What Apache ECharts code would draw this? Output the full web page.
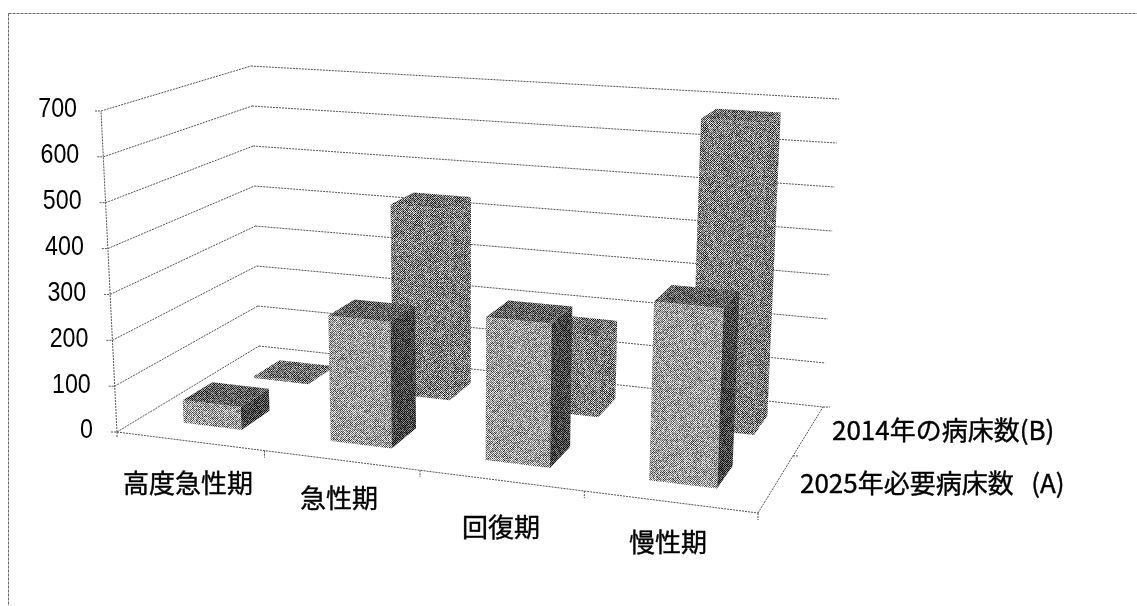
<!DOCTYPE html>
<html><head><meta charset="utf-8">
<script src="https://cdn.jsdelivr.net/npm/echarts@6/dist/echarts.min.js"></script>
<style>html,body{margin:0;padding:0;background:#fff}#c{width:1137px;height:606px}</style>
</head><body><div id="c"></div>
<script>
const categories = ['高度急性期', '急性期', '回復期', '慢性期'];
const seriesNames = ['2025年必要病床数   (A)', '2014年の病床数(B)'];
const valuesA = [50, 270, 300, 365];
const valuesB = [4, 438, 180, 680];
const tickValues = [0, 100, 200, 300, 400, 500, 600, 700];

const FONT = '"Noto Sans CJK JP","Liberation Sans",sans-serif';
const catLabelPos=[[188,483],[339,498],[501,527],[668,542]];
const serLabelPos=[[800,483],[832,430]];
const floorQuad = [[117,432],[758,513],[823,407],[259,346]];
const vanish=[462,7355], riseCoef=[-2.6e-7,7.43e-5,0.0143];
function homography(q){
  const [p0,p1,p2,p3]=q;
  const dx1=p1[0]-p2[0],dy1=p1[1]-p2[1],dx2=p3[0]-p2[0],dy2=p3[1]-p2[1];
  const dx3=p0[0]-p1[0]+p2[0]-p3[0],dy3=p0[1]-p1[1]+p2[1]-p3[1];
  const den=dx1*dy2-dx2*dy1;
  const g=(dx3*dy2-dx2*dy3)/den,h=(dx1*dy3-dx3*dy1)/den;
  const a=p1[0]-p0[0]+g*p1[0],b=p3[0]-p0[0]+h*p3[0],d=p1[1]-p0[1]+g*p1[1],e=p3[1]-p0[1]+h*p3[1];
  return (u,w)=>{const n=g*u+h*w+1;return [(a*u+b*w+p0[0])/n,(d*u+e*w+p0[1])/n];};
}
const hF=homography(floorQuad);
function project(u,w,v){
  const f=hF(u,w),t=(riseCoef[0]*f[0]+riseCoef[1]*f[1]+riseCoef[2])*v;
  return [f[0]+(f[0]-vanish[0])*t,f[1]+(f[1]-vanish[1])*t];
}

function tile(gray,amp){
  const n=128,c=document.createElement('canvas');c.width=c.height=n;
  const x=c.getContext('2d'),im=x.createImageData(n,n);
  let s=(2463534242^(gray*7919))|0;
  for(let r=0;r<n;r++)for(let q=0;q<n;q++){
    s^=s<<13;s^=s>>>17;s^=s<<5;
    const noise=((s>>>8)&255)/255-0.5;
    const chk=(r+q)%2?1:-1;
    const val=Math.max(0,Math.min(255,gray+chk*amp*0.55+noise*amp));
    const i=(r*n+q)*4;
    im.data[i]=im.data[i+1]=im.data[i+2]=val;im.data[i+3]=255;
  }
  x.putImageData(im,0,0);
  return {image:c,repeat:'repeat'};
}
const fillsA={front:tile(158,110),side:tile(68,90),top:tile(98,100)};
const fillsB={front:tile(128,120),side:tile(124,120),top:tile(112,110)};

function normV(params,api,val){
  const cs=params.coordSys;
  return (cs.y+cs.height-api.coord([0,val])[1])/cs.height;
}
function barRender(depth,fills){
  const half=0.1,fw=0.4;
  return function(params,api){
    const cs=params.coordSys,i=api.value(0),val=api.value(1);
    const cx=(api.coord([i,0])[0]-cs.x)/cs.width,hw=api.size([1,0])[0]/cs.width*fw/2;
    const v=normV(params,api,val);
    const u0=cx-hw,u1=cx+hw,w0=depth-half,w1=depth+half;
    const poly=(pts,f)=>({type:'polygon',shape:{points:pts},style:{fill:f,stroke:null}});
    return {type:'group',children:[
      poly([project(u0,w0,0),project(u1,w0,0),project(u1,w0,v),project(u0,w0,v)],fills.front),
      poly([project(u1,w0,0),project(u1,w1,0),project(u1,w1,v),project(u1,w0,v)],fills.side),
      poly([project(u0,w0,v),project(u1,w0,v),project(u1,w1,v),project(u0,w1,v)],fills.top)
    ]};
  };
}
const lineStyle={stroke:'#555',lineWidth:1,lineDash:[2,1],fill:null};
function seg(a,b,s){return {type:'line',shape:{x1:a[0],y1:a[1],x2:b[0],y2:b[1]},style:s||lineStyle};}
function wallRender(params,api){
  const val=api.value(0),v=normV(params,api,val);
  const a=project(0,0,v),b=project(0,1,v),c=project(1,1,v);
  const kids=[seg(a,b),seg(b,c),seg([a[0]-6,a[1]],a)];
  kids.push({type:'text',x:a[0]-24,y:a[1]-1,scaleX:0.86,style:{text:String(val),x:0,y:0,align:'right',verticalAlign:'middle',fill:'#000',font:'27px "Liberation Sans",sans-serif'}});
  return {type:'group',children:kids};
}
function frameRender(params,api){
  const o=project(0,0,0);
  const kids=[seg(o,project(0,0,1)),seg(o,project(1,0,0)),seg(project(1,0,0),project(1,1,0))];
  categories.forEach((_,i)=>{const p=project((i+1)/4,0,0);kids.push(seg(p,[p[0],p[1]+7]));});
  kids.push(seg(o,[o[0],o[1]+5]));
  const m=project(1,0.5,0);kids.push(seg(m,[m[0]+6,m[1]]));
  const e=project(1,1,0);kids.push(seg(e,[e[0]+7,e[1]]));
  return {type:'group',children:kids};
}
const textStyle=(text,x,y,align,size)=>({type:'text',style:{text,x,y,align,verticalAlign:'middle',fill:'#000',stroke:'#000',lineWidth:0.4,font:size+'px '+FONT}});
const idx=a=>a.map((v,i)=>[i,v]);
const chart=echarts.init(document.getElementById('c'),null,{renderer:'canvas'});
chart.setOption({
  animation:false,backgroundColor:'#fff',
  grid:{left:117,right:379,top:111,bottom:174},
  xAxis:{type:'category',data:categories,show:false},
  yAxis:{type:'value',min:0,max:700,interval:100,show:false},
  graphic:[
    {type:'line',shape:{x1:8.5,y1:13.5,x2:1137,y2:13.5},style:{stroke:'#666',lineWidth:1,lineDash:[3,1]},silent:true},
    {type:'line',shape:{x1:8.5,y1:13.5,x2:8.5,y2:606},style:{stroke:'#666',lineWidth:1,lineDash:[3,1]},silent:true}
  ],
  series:[
    {type:'custom',z:2,data:tickValues.map(v=>[v]),encode:{y:0},renderItem:wallRender,silent:true},
    {type:'custom',z:3,data:[[0]],renderItem:frameRender,silent:true},
    {type:'custom',name:seriesNames[1],z:4,data:idx(valuesB),renderItem:barRender(0.75,fillsB)},
    {type:'custom',name:seriesNames[0],z:5,data:idx(valuesA),renderItem:barRender(0.25,fillsA)},
    {type:'custom',z:6,data:categories.map((_,i)=>[i]),renderItem:function(p,api){const i=api.value(0),q=catLabelPos[i];return textStyle(categories[i],q[0],q[1],'center',26);},silent:true},
    {type:'custom',z:6,data:seriesNames.map((_,i)=>[i]),renderItem:function(p,api){const i=api.value(0),q=serLabelPos[i];return textStyle(seriesNames[i],q[0],q[1],'left',26);},silent:true}
  ]
});
</script></body></html>
